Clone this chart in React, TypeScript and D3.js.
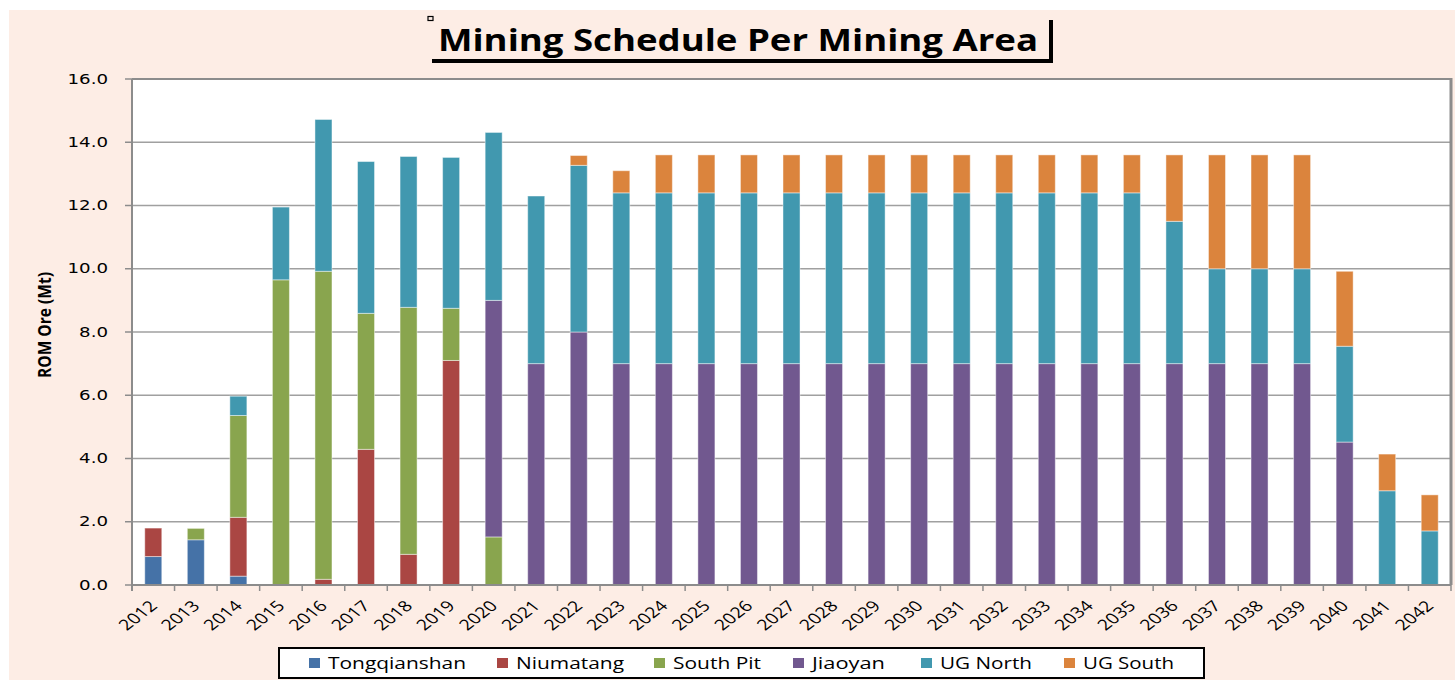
import React from 'react';
import * as d3 from 'd3';

const years = [
  '2012', '2013', '2014', '2015', '2016', '2017', '2018', '2019', '2020', '2021',
  '2022', '2023', '2024', '2025', '2026', '2027', '2028', '2029', '2030', '2031',
  '2032', '2033', '2034', '2035', '2036', '2037', '2038', '2039', '2040', '2041', '2042',
];

const tongqianshan = [0.9, 1.43, 0.28, 0, 0, 0, 0, 0, 0, 0, 0, 0, 0, 0, 0, 0, 0, 0, 0, 0, 0, 0, 0, 0, 0, 0, 0, 0, 0, 0, 0];
const niumatang = [0.9, 0, 1.86, 0, 0.18, 4.29, 0.97, 7.1, 0, 0, 0, 0, 0, 0, 0, 0, 0, 0, 0, 0, 0, 0, 0, 0, 0, 0, 0, 0, 0, 0, 0];
const southPit = [0, 0.36, 3.22, 9.65, 9.74, 4.3, 7.81, 1.65, 1.52, 0, 0, 0, 0, 0, 0, 0, 0, 0, 0, 0, 0, 0, 0, 0, 0, 0, 0, 0, 0, 0, 0];
const jiaoyan = [0, 0, 0, 0, 0, 0, 0, 0, 7.48, 7, 8, 7, 7, 7, 7, 7, 7, 7, 7, 7, 7, 7, 7, 7, 7, 7, 7, 7, 4.52, 0, 0];
const ugNorth = [0, 0, 0.61, 2.3, 4.8, 4.8, 4.77, 4.77, 5.31, 5.3, 5.27, 5.4, 5.4, 5.4, 5.4, 5.4, 5.4, 5.4, 5.4, 5.4, 5.4, 5.4, 5.4, 5.4, 4.5, 3, 3, 3, 3.03, 2.98, 1.71];
const ugSouth = [0, 0, 0, 0, 0, 0, 0, 0, 0, 0, 0.31, 0.7, 1.2, 1.2, 1.2, 1.2, 1.2, 1.2, 1.2, 1.2, 1.2, 1.2, 1.2, 1.2, 2.1, 3.6, 3.6, 3.6, 2.37, 1.16, 1.14];

const seriesNames = ['Tongqianshan', 'Niumatang', 'South Pit', 'Jiaoyan', 'UG North', 'UG South'];
const seriesValues = [tongqianshan, niumatang, southPit, jiaoyan, ugNorth, ugSouth];
const colors = ['#4572A7', '#AA4643', '#89A54E', '#71588F', '#4198AF', '#DB843D'];
const yTicks = [0, 2, 4, 6, 8, 10, 12, 14, 16];

// legend layout (text is stretched wide)
const legendX = [309, 497, 654, 793, 921, 1064];
const legendTextLen = [138, 108, 88, 73, 92, 91];

function App() {
  const left = 132;
  const right = 1451;
  const top = 79;
  const bottom = 585;
  const stretch = 1.3;

  const table = years.map((year, i) => {
    const row: Record<string, any> = { year };
    seriesNames.forEach((name, s) => {
      row[name] = seriesValues[s][i];
    });
    return row;
  });

  const stacked = d3.stack().keys(seriesNames)(table as any);

  const xScale = d3.scaleBand().domain(years).range([left, right]).padding(0);
  const step = xScale.step();
  const barW = step * 0.4;
  const yScale = d3.scaleLinear().domain([0, 16]).range([bottom, top]);

  return (
    <svg
      width={1455}
      height={680}
      style={{ position: 'absolute', left: 0, top: 0 }}
    >
      <rect x={0} y={0} width={1455} height={680} fill="#ffffff" />
      <rect x={9} y={10} width={1446} height={670} fill="#FDEDE5" />

      {/* title with its shadow-like frame */}
      <rect x={428} y={16.5} width={5} height={4} fill="none" stroke="#000" strokeWidth={1.2} />
      <text
        x={438}
        y={51}
        fontFamily="'Open Sans', sans-serif"
        fontWeight="bold"
        fontSize={30}
        textLength={600}
        lengthAdjust="spacingAndGlyphs"
        fill="#000"
      >
        Mining Schedule Per Mining Area
      </text>
      <rect x={432} y={59} width={621} height={4} fill="#000" />
      <rect x={1049} y={20} width={4} height={43} fill="#000" />

      {/* plot area */}
      <rect x={left} y={top} width={right - left} height={bottom - top} fill="#ffffff" />
      {yTicks.slice(1).map((t) => (
        <line
          key={t}
          x1={left}
          x2={right}
          y1={yScale(t)}
          y2={yScale(t)}
          stroke="#A0A0A0"
          strokeWidth={1.5}
        />
      ))}

      {stacked.map((layer, s) => (
        <g key={seriesNames[s]} fill={colors[s]}>
          {layer.map((d, i) =>
            d[1] - d[0] > 0 ? (
              <rect
                key={years[i]}
                x={(xScale(years[i]) as number) + (step - barW) / 2}
                y={yScale(d[1])}
                width={barW}
                height={yScale(d[0]) - yScale(d[1])}
                stroke="rgba(255,255,255,0.45)"
                strokeWidth={1}
              />
            ) : null
          )}
        </g>
      ))}

      <line x1={left} x2={right} y1={top} y2={top} stroke="#8C8C8C" strokeWidth={2} />
      <line x1={right} x2={right} y1={top - 1} y2={bottom} stroke="#8C8C8C" strokeWidth={3} />
      <line x1={left} x2={left} y1={top} y2={bottom + 6} stroke="#8C8C8C" strokeWidth={2} />
      <line x1={left} x2={right} y1={bottom} y2={bottom} stroke="#8C8C8C" strokeWidth={2} />

      {/* y axis */}
      {yTicks.map((t) => (
        <g key={t}>
          <line x1={left - 7} x2={left} y1={yScale(t)} y2={yScale(t)} stroke="#8C8C8C" strokeWidth={1.5} />
          <text
            transform={`translate(108 ${yScale(t)}) scale(${stretch} 1)`}
            textAnchor="end"
            dominantBaseline="central"
            fontFamily="'DejaVu Sans', sans-serif"
            fontSize={14}
            fill="#000"
          >
            {t.toFixed(1)}
          </text>
        </g>
      ))}
      <text
        transform={`translate(51 325) scale(${stretch} 1) rotate(-90)`}
        textAnchor="middle"
        fontFamily="'Open Sans', sans-serif"
        fontWeight="bold"
        fontSize={13}
        textLength={106}
        lengthAdjust="spacingAndGlyphs"
        fill="#000"
      >
        ROM Ore (Mt)
      </text>

      {/* x axis */}
      {years.map((year) => {
        const x0 = xScale(year) as number;
        const cx = x0 + step / 2;
        return (
          <g key={year}>
            <line x1={x0 + step} x2={x0 + step} y1={bottom} y2={bottom + 6} stroke="#8C8C8C" strokeWidth={1.5} />
            <text
              transform={`translate(${cx + 5} 607) scale(${stretch} 1) rotate(-45)`}
              textAnchor="end"
              fontFamily="'Open Sans', sans-serif"
              fontSize={15}
              fill="#000"
            >
              {year}
            </text>
          </g>
        );
      })}

      {/* legend */}
      <rect x={279} y={648} width={925} height={30} fill="#ffffff" stroke="#000" strokeWidth={2} />
      {seriesNames.map((name, s) => (
        <g key={name}>
          <rect x={legendX[s]} y={658} width={11} height={10} fill={colors[s]} />
          <text
            x={legendX[s] + 19}
            y={669}
            fontFamily="'Open Sans', sans-serif"
            fontSize={16}
            textLength={legendTextLen[s]}
            lengthAdjust="spacingAndGlyphs"
            fill="#000"
          >
            {name}
          </text>
        </g>
      ))}
    </svg>
  );
}

export default App;
